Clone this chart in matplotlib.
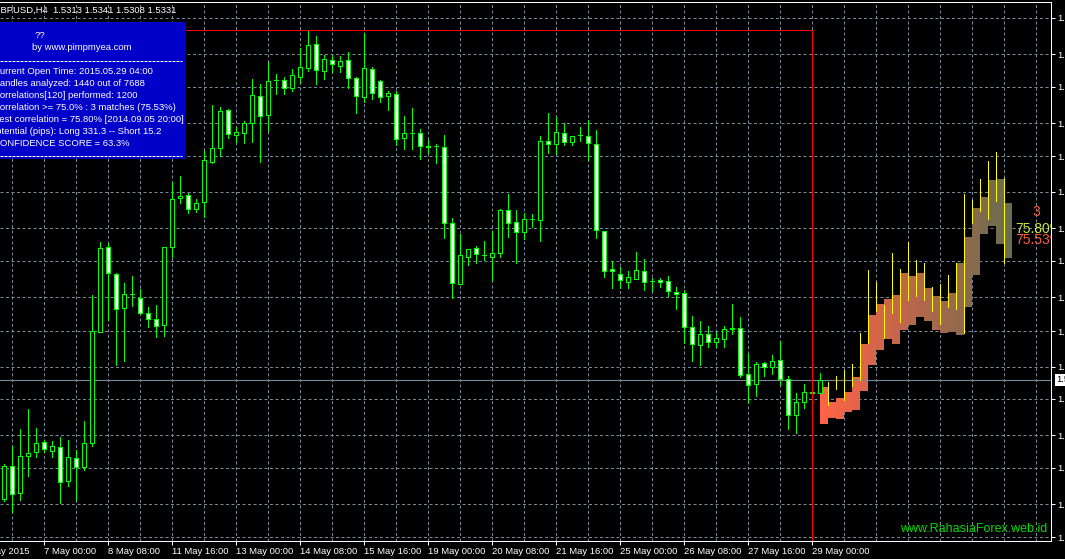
import numpy as np
import matplotlib.pyplot as plt
from matplotlib.patches import Rectangle
from matplotlib.lines import Line2D
from matplotlib.transforms import blended_transform_factory

plt.rcParams['font.family'] = ['Liberation Sans', 'DejaVu Sans']

# GBPUSD H4, bar 0 = 6 May 04:00 ... bar 102 = 29 May 04:00
opens = [1.5167, 1.5213, 1.5176, 1.5226, 1.5232, 1.5246, 1.5233, 1.5239, 1.5192, 1.5224,
         1.5211, 1.5244, 1.5397, 1.5514, 1.5477, 1.5430, 1.5449, 1.5444, 1.5423, 1.5415,
         1.5407, 1.5514, 1.5581, 1.5585, 1.5566, 1.5576, 1.5631, 1.5650, 1.5702, 1.5668,
         1.5671, 1.5685, 1.5722, 1.5696, 1.5743, 1.5744, 1.5733, 1.5748, 1.5760, 1.5793,
         1.5756, 1.5771, 1.5763, 1.5771, 1.5746, 1.5720, 1.5759, 1.5742, 1.5722, 1.5724,
         1.5664, 1.5671, 1.5671, 1.5653, 1.5653, 1.5652, 1.5547, 1.5463, 1.5500, 1.5513,
         1.5503, 1.5500, 1.5506, 1.5565, 1.5548, 1.5535, 1.5552, 1.5551, 1.5660, 1.5656,
         1.5671, 1.5658, 1.5668, 1.5667, 1.5656, 1.5536, 1.5484, 1.5477, 1.5466, 1.5470,
         1.5481, 1.5467, 1.5469, 1.5467, 1.5452, 1.5451, 1.5404, 1.5379, 1.5394, 1.5383,
         1.5387, 1.5402, 1.5403, 1.5339, 1.5326, 1.5354, 1.5349, 1.5359, 1.5332, 1.5283,
         1.5301, 1.5314, 1.5313]
highs = [1.5215, 1.5240, 1.5264, 1.5291, 1.5265, 1.5249, 1.5247, 1.5253, 1.5249, 1.5235,
         1.5275, 1.5448, 1.5521, 1.5519, 1.5478, 1.5464, 1.5474, 1.5456, 1.5431, 1.5434,
         1.5514, 1.5603, 1.5612, 1.5588, 1.5580, 1.5646, 1.5709, 1.5707, 1.5704, 1.5679,
         1.5687, 1.5745, 1.5738, 1.5768, 1.5752, 1.5748, 1.5759, 1.5788, 1.5811, 1.5804,
         1.5778, 1.5778, 1.5777, 1.5782, 1.5748, 1.5808, 1.5762, 1.5744, 1.5729, 1.5729,
         1.5694, 1.5705, 1.5676, 1.5661, 1.5656, 1.5668, 1.5554, 1.5532, 1.5511, 1.5515,
         1.5522, 1.5536, 1.5566, 1.5587, 1.5565, 1.5561, 1.5559, 1.5667, 1.5698, 1.5693,
         1.5685, 1.5667, 1.5679, 1.5689, 1.5675, 1.5536, 1.5495, 1.5486, 1.5481, 1.5507,
         1.5497, 1.5471, 1.5471, 1.5474, 1.5459, 1.5455, 1.5419, 1.5412, 1.5405, 1.5397,
         1.5405, 1.5436, 1.5418, 1.5367, 1.5356, 1.5356, 1.5365, 1.5385, 1.5337, 1.5313,
         1.5326, 1.5316, 1.5341]
lows = [1.5165, 1.5149, 1.5166, 1.5199, 1.5225, 1.5232, 1.5225, 1.5162, 1.5185, 1.5166,
        1.5207, 1.5240, 1.5397, 1.5414, 1.5352, 1.5357, 1.5433, 1.5422, 1.5404, 1.5390,
        1.5392, 1.5500, 1.5574, 1.5561, 1.5562, 1.5555, 1.5630, 1.5639, 1.5664, 1.5658,
        1.5657, 1.5658, 1.5631, 1.5674, 1.5724, 1.5724, 1.5729, 1.5740, 1.5756, 1.5738,
        1.5745, 1.5755, 1.5755, 1.5733, 1.5698, 1.5713, 1.5717, 1.5713, 1.5702, 1.5654,
        1.5649, 1.5649, 1.5635, 1.5643, 1.5630, 1.5526, 1.5444, 1.5463, 1.5489, 1.5492,
        1.5496, 1.5469, 1.5500, 1.5528, 1.5492, 1.5525, 1.5542, 1.5522, 1.5643, 1.5642,
        1.5654, 1.5654, 1.5660, 1.5634, 1.5526, 1.5473, 1.5458, 1.5458, 1.5458, 1.5470,
        1.5455, 1.5453, 1.5459, 1.5447, 1.5429, 1.5382, 1.5357, 1.5352, 1.5376, 1.5376,
        1.5376, 1.5394, 1.5335, 1.5299, 1.5309, 1.5337, 1.5339, 1.5324, 1.5264, 1.5258,
        1.5293, 1.5313, 1.5308]
closes = [1.5213, 1.5174, 1.5226, 1.5231, 1.5244, 1.5236, 1.5240, 1.5191, 1.5225, 1.5211,
          1.5244, 1.5398, 1.5513, 1.5478, 1.5429, 1.5449, 1.5449, 1.5423, 1.5415, 1.5405,
          1.5514, 1.5580, 1.5584, 1.5566, 1.5574, 1.5634, 1.5650, 1.5701, 1.5669, 1.5672,
          1.5685, 1.5723, 1.5694, 1.5742, 1.5743, 1.5733, 1.5751, 1.5762, 1.5792, 1.5757,
          1.5773, 1.5766, 1.5770, 1.5746, 1.5722, 1.5760, 1.5726, 1.5720, 1.5726, 1.5663,
          1.5671, 1.5671, 1.5653, 1.5652, 1.5653, 1.5547, 1.5464, 1.5503, 1.5511, 1.5504,
          1.5503, 1.5506, 1.5565, 1.5547, 1.5535, 1.5552, 1.5552, 1.5660, 1.5656, 1.5672,
          1.5658, 1.5667, 1.5668, 1.5657, 1.5537, 1.5481, 1.5481, 1.5469, 1.5473, 1.5482,
          1.5466, 1.5467, 1.5466, 1.5453, 1.5449, 1.5404, 1.5381, 1.5394, 1.5383, 1.5389,
          1.5401, 1.5401, 1.5338, 1.5324, 1.5353, 1.5349, 1.5357, 1.5332, 1.5283, 1.5301,
          1.5315, 1.5313, 1.5331]

# projected pattern after the current bar
proj_low = [1.5270, 1.5279, 1.5277, 1.5287, 1.5290, 1.5316, 1.5352, 1.5372, 1.5387, 1.5381,
            1.5400, 1.5407, 1.5418, 1.5412, 1.5400, 1.5396, 1.5397, 1.5393, 1.5431, 1.5475,
            1.5532, 1.5543, 1.5518, 1.5499]
proj_high = [1.5322, 1.5301, 1.5306, 1.5315, 1.5335, 1.5381, 1.5420, 1.5436, 1.5442, 1.5448,
             1.5478, 1.5474, 1.5478, 1.5458, 1.5447, 1.5440, 1.5451, 1.5492, 1.5528, 1.5568,
             1.5583, 1.5606, 1.5608, 1.5574]
wick_low = [1.5297, 1.5319, 1.5303, 1.5323, 1.5331, 1.5382, 1.5426, 1.5389, 1.5423, 1.5411,
            1.5441, 1.5447, 1.5441, 1.5426, 1.5408, 1.5431, 1.5429, 1.5396, 1.5547, 1.5564,
            1.5552, 1.5577, 1.5492]
wick_high = [1.5328, 1.5337, 1.5345, 1.5353, 1.5396, 1.5482, 1.5466, 1.5434, 1.5506, 1.5484,
             1.5521, 1.5496, 1.5492, 1.5459, 1.5463, 1.5475, 1.5492, 1.5587, 1.5579, 1.5608,
             1.5632, 1.5645, 1.5609]

first_label = '6 May 2015'
first_tick = -3
date_ticks = [5, 13, 21, 29, 37, 45, 53, 61, 69, 77, 85, 93, 101]
date_labels = ['7 May 00:00', '8 May 08:00', '11 May 16:00', '13 May 00:00',
               '14 May 08:00', '15 May 16:00', '19 May 00:00', '20 May 08:00', '21 May 16:00',
               '25 May 00:00', '26 May 08:00', '27 May 16:00', '29 May 00:00']
price_ticks = [1.5829, 1.5779, 1.5734, 1.5684, 1.5639, 1.5590, 1.5540, 1.5495,
               1.5445, 1.5398, 1.5349, 1.5305, 1.5255, 1.5210, 1.5160, 1.5115]

window_top = 1.5812
window_end = 101
matches = 3
best_corr = 75.80
avg_corr = 75.53

info_lines = ['Current Open Time: 2015.05.29 04:00',
              'Candles analyzed: 1440 out of 7688',
              'Correlations[120] performed: 1200',
              'Correlation >= 75.0% : 3 matches (75.53%)',
              'Best correlation = 75.80% [2014.09.05 20:00]',
              'Potential (pips): Long 331.3 -- Short 15.2',
              'CONFIDENCE SCORE = 63.3%']

W, H = 1065, 559
GRID = '#778899'
GREEN = '#00FF00'
FS = 6.8
XMIN, XMAX = -0.5, 130.875
YMIN, YMAX = 1.51095, 1.58509
PX = 0.72  # one screen pixel in points

fig = plt.figure(figsize=(W / 100, H / 100), dpi=100, facecolor='black')
ax = fig.add_axes([0, 18 / H, 1051 / W, 539 / H], facecolor='black')

# axes, ticks and grid
ax.set_xticks(date_ticks, date_labels)
ax.set_xticks(np.arange(1, 131, 4), minor=True)
ax.set_yticks(price_ticks, [f'{p:.4f}' for p in price_ticks])
ax.set_xlim(XMIN, XMAX)
ax.set_ylim(YMIN, YMAX)
ax.yaxis.tick_right()
ax.tick_params(axis='x', which='major', colors='white', length=3, width=PX, pad=1.5, labelsize=FS)
ax.tick_params(axis='x', which='minor', length=0)
ax.tick_params(axis='y', colors='white', length=3, width=PX, pad=1.5, labelsize=FS)
for lab in ax.get_xticklabels():
    lab.set_ha('left')
ax.annotate(first_label, xy=(first_tick, 0), xycoords=('data', 'axes fraction'),
            xytext=(0, -4.5), textcoords='offset points', ha='left', va='top',
            color='white', fontsize=FS, annotation_clip=False)
ax.grid(which='both', axis='x', color=GRID, lw=PX, ls=(0, (3, 2.5)))
ax.grid(which='major', axis='y', color=GRID, lw=PX, ls=(0, (3, 2.5)))
ax.set_axisbelow(True)
ax.spines['left'].set_visible(False)
for s in ['top', 'right', 'bottom']:
    ax.spines[s].set_color('white')
    ax.spines[s].set_linewidth(PX)

# candles
o, h, l, c = map(np.array, (opens, highs, lows, closes))
x = np.arange(len(o))
ax.vlines(x, l, h, color=GREEN, lw=PX * 0.97, zorder=2, antialiased=False)
face = ['black' if cc >= oo else 'white' for oo, cc in zip(o, c)]
ax.bar(x, np.abs(c - o), bottom=np.minimum(o, c), width=0.5, color=face,
       edgecolor=GREEN, linewidth=PX * 0.97, zorder=3, antialiased=False)

# projection
pl, ph = np.array(proj_low), np.array(proj_high)
n = len(pl)
c0 = np.array([255, 99, 71]) / 255
c1 = np.array([107, 107, 80]) / 255
t = np.linspace(0, 1, n)[:, None]
cols = c0 + (c1 - c0) * t
ax.bar(len(o) - 1 + np.arange(n), ph - pl, bottom=pl, width=1, align='edge',
       color=cols, linewidth=0, zorder=2.5, antialiased=False)
ax.vlines(len(o) + np.arange(len(wick_low)), wick_low, wick_high, color='yellow', lw=PX * 0.97,
          zorder=4, antialiased=False)

# price line and label
last = closes[-1]
ax.axhline(last, color=GRID, lw=0.8, zorder=2.6)
tr = blended_transform_factory(ax.transAxes, ax.transData)
ax.text(1 + 5 / 1051, last, f'{last:.4f}', transform=tr, va='center', ha='left',
        color='black', fontsize=FS, clip_on=False, zorder=6,
        bbox=dict(facecolor='white', edgecolor='none', pad=1.0))

# analysis window
ax.hlines(window_top, XMIN, window_end, color='red', lw=PX * 0.97, zorder=3.5, antialiased=False)
ax.vlines(window_end, YMIN, window_top, color='red', lw=PX * 0.97, zorder=3.5, antialiased=False)

# correlation labels at the right
ax.text(128.6, 1.5562, f'{matches}', color='#FF5A3C', fontsize=10, va='center', ha='left', clip_on=True)
ax.text(126.4, 1.5538, f'{best_corr:.2f}%', color='#C8E632', fontsize=10, va='center', ha='left', clip_on=True)
ax.text(126.4, 1.5523, f'{avg_corr:.2f}%', color='#FF5A3C', fontsize=10, va='center', ha='left', clip_on=True)


def fx(px):
    return px / W


def fy(py):
    return 1 - py / H


# header
fig.text(fx(-7), fy(10), f'GBPUSD,H4  {opens[-1]:.4f} {highs[-1]:.4f} {lows[-1]:.4f} {closes[-1]:.4f}',
         color='white', fontsize=FS, va='center', ha='left')

# info panel
fig.add_artist(Rectangle((fx(-2), fy(159)), (186 + 2) / W, 137 / H, transform=fig.transFigure,
                         facecolor='#0000C8', edgecolor='none', zorder=5))
fig.text(fx(35), fy(35), '??', color='white', fontsize=FS, va='center', zorder=6)
fig.text(fx(32), fy(47.5), 'by www.pimpmyea.com', color='white', fontsize=FS, va='center', zorder=6)
for yy in (60.7, 155.7):
    fig.add_artist(Line2D([0, fx(182)], [fy(yy), fy(yy)], transform=fig.transFigure,
                          color='white', lw=PX, ls=(0, (3, 1)), zorder=6))
starts = [-7, -7, -7, -7, -7, -10, -7]
for i, (txt, sx) in enumerate(zip(info_lines, starts)):
    fig.text(fx(sx), fy(71.7 + 11.95 * i), txt, color='white', fontsize=FS, va='center', zorder=6)

# watermark
fig.text(fx(1047), fy(529), 'www.RahasiaForex.web.id', color='#00DD00', fontsize=9,
         ha='right', va='center')

fig.savefig('out.png', dpi=100, facecolor='black')
